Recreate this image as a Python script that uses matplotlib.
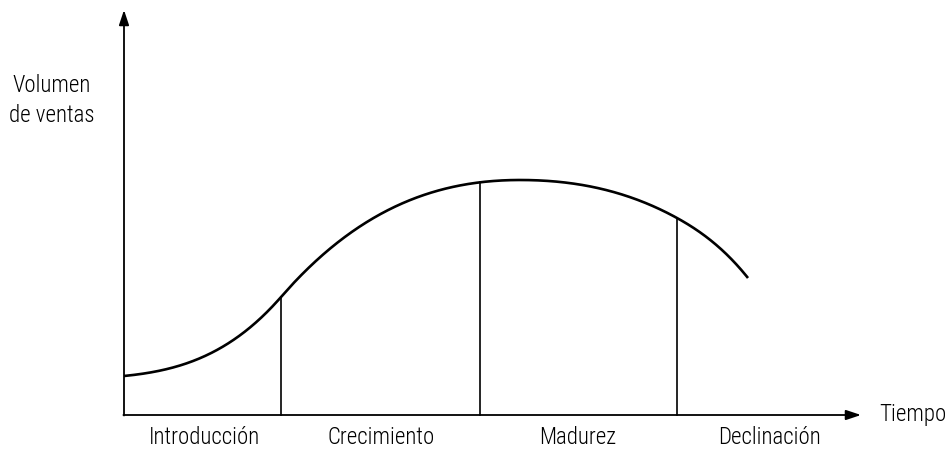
import matplotlib
matplotlib.use("Agg")
import matplotlib.pyplot as plt
import numpy as np
from matplotlib import font_manager

# Key points of the sales curve: time, sales, local slope
key_t = [0, 157, 396, 553, 624]
key_v = [39, 118, 235, 197, 137]
key_slope = [0.1, 1.15, 0.0, -0.55, -1.25]
stage_bounds_t = [157, 356, 553]
stage_labels = ["Introducción", "Crecimiento", "Madurez", "Declinación"]
stage_label_t = [81, 257, 454, 646]
y_label_lines = ["Volumen", "de ventas"]
x_label = "Tiempo"

names = {f.name for f in font_manager.fontManager.ttflist}
fam = ["Liberation Sans Narrow", "DejaVu Sans"] if "Liberation Sans Narrow" in names else ["Roboto Condensed", "DejaVu Sans"]
plt.rcParams['font.family'] = fam

fig = plt.figure(figsize=(9.49, 4.49), dpi=100)
ax = fig.add_axes([0, 0, 1, 1])
ax.set_xlim(-124, 825)
ax.set_ylim(-34, 415)
ax.axis("off")

# Hermite curve (as cubic Bezier segments) through the key points
xs_all, ys_all = [], []
s = np.linspace(0, 1, 200)
for i in range(len(key_t) - 1):
    t0, t3 = key_t[i], key_t[i + 1]
    v0, v3 = key_v[i], key_v[i + 1]
    h = (t3 - t0) / 3.0
    p = np.array([[t0, v0], [t0 + h, v0 + h * key_slope[i]],
                  [t3 - h, v3 - h * key_slope[i + 1]], [t3, v3]])
    B = np.column_stack([(1 - s) ** 3, 3 * (1 - s) ** 2 * s, 3 * (1 - s) * s ** 2, s ** 3])
    pts = B @ p
    xs_all.append(pts[:, 0]); ys_all.append(pts[:, 1])
ts = np.concatenate(xs_all); vs = np.concatenate(ys_all)
ax.plot(ts, vs, color="black", lw=1.9, solid_capstyle="butt")

# stage boundaries
for b in stage_bounds_t:
    yb = np.interp(b, ts, vs)
    ax.plot([b, b], [0, yb], color="black", lw=1.2)

# axes with arrows
ax.annotate("", xy=(0, 405), xytext=(0, -0.5),
            arrowprops=dict(arrowstyle="-|>,head_length=0.9,head_width=0.3", color="black", lw=1.3, shrinkA=0, shrinkB=0))
ax.annotate("", xy=(737, 0), xytext=(-0.6, 0),
            arrowprops=dict(arrowstyle="-|>,head_length=0.9,head_width=0.3", color="black", lw=1.3, shrinkA=0, shrinkB=0))

fs = 16.5
for lab, lt in zip(stage_labels, stage_label_t):
    ax.text(lt, -29, lab, ha="center", va="baseline", fontsize=fs, fontweight="light")
ax.text(755, -6, x_label, ha="left", va="baseline", fontsize=fs, fontweight="light")
ax.text(-72, 323, y_label_lines[0], ha="center", va="baseline", fontsize=fs, fontweight="light")
ax.text(-72, 293, y_label_lines[1], ha="center", va="baseline", fontsize=fs, fontweight="light")

fig.savefig("out.png", dpi=100)
